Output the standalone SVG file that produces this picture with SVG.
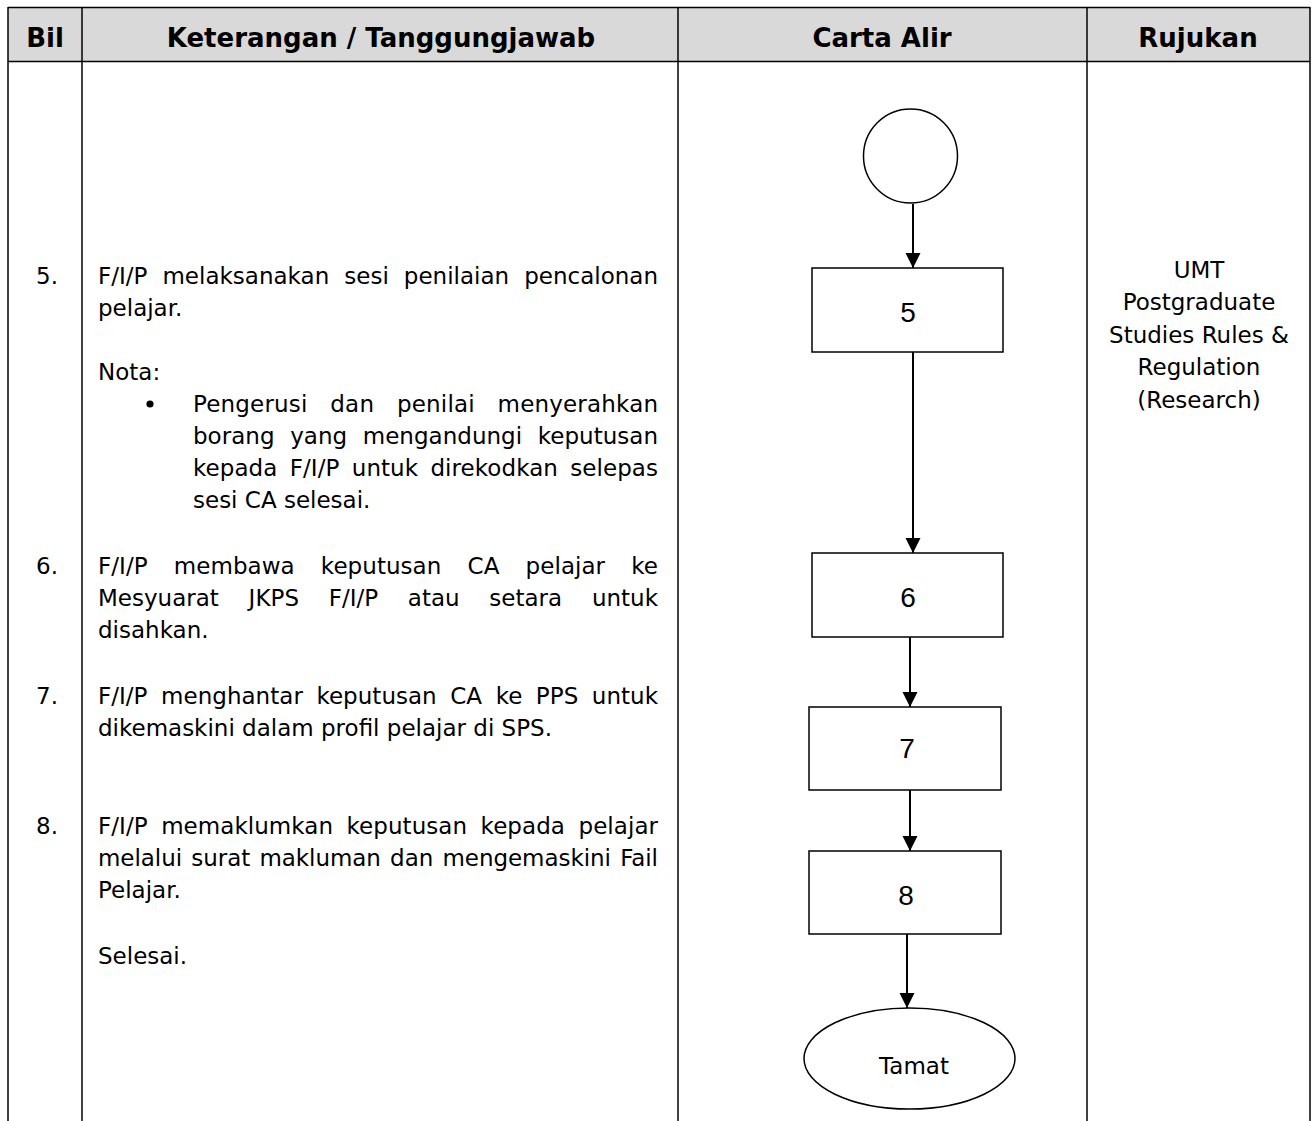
<svg xmlns="http://www.w3.org/2000/svg" width="1312" height="1121" viewBox="0 0 1312 1121">
  <defs>
    <style>
      .grid { stroke: #000; stroke-width: 1.5; fill: none; }
      .hdr { font-family: "DejaVu Sans", "Liberation Sans", sans-serif; font-weight: bold; font-size: 26px; fill: #000; text-anchor: middle; }
      .body { font-family: "DejaVu Sans", "Liberation Sans", sans-serif; font-size: 23px; fill: #000; }
      .ref { font-family: "DejaVu Sans", "Liberation Sans", sans-serif; font-size: 23px; fill: #000; text-anchor: middle; }
      .shape { fill: #fff; stroke: #000; stroke-width: 1.5; }
      .num { font-family: "Liberation Sans", Arial, sans-serif; font-size: 28px; fill: #000; text-anchor: middle; }
      .lbl { font-family: "DejaVu Sans", "Liberation Sans", sans-serif; font-size: 23px; fill: #000; text-anchor: middle; }
      .conn { stroke: #000; stroke-width: 2; fill: none; }
    </style>
    <marker id="arrow" markerUnits="userSpaceOnUse" markerWidth="16" markerHeight="16" refX="15" refY="7.5" orient="auto">
      <path d="M0,0 L15,7.5 L0,15 z" fill="#000"/>
    </marker>
  </defs>

  <g id="table">
    <rect x="8" y="7.5" width="1302" height="54" fill="#d9d9d9"/>
    <line class="grid" x1="8" y1="7.5" x2="1310" y2="7.5"/>
    <line class="grid" x1="8" y1="61.5" x2="1310" y2="61.5"/>
    <line class="grid" x1="8" y1="7" x2="8" y2="1121"/>
    <line class="grid" x1="82" y1="7" x2="82" y2="1121"/>
    <line class="grid" x1="678" y1="7" x2="678" y2="1121"/>
    <line class="grid" x1="1087" y1="7" x2="1087" y2="1121"/>
    <line class="grid" x1="1310" y1="7" x2="1310" y2="1121"/>
    <text class="hdr" x="45" y="46.5">Bil</text>
    <text class="hdr" x="381" y="46.5">Keterangan / Tanggungjawab</text>
    <text class="hdr" x="882" y="46.5">Carta Alir</text>
    <text class="hdr" x="1198" y="46.5">Rujukan</text>
  </g>

  <g id="keterangan">
    <text class="body" x="36" y="284">5.</text>
    <text class="body" x="98" y="284" word-spacing="7.7" textLength="560" lengthAdjust="spacing">F/I/P melaksanakan sesi penilaian pencalonan</text>
    <text class="body" x="98" y="316">pelajar.</text>
    <text class="body" x="98" y="380">Nota:</text>
    <circle cx="150" cy="404" r="3.6" fill="#000"/>
    <text class="body" x="193" y="412" word-spacing="15.3" textLength="465" lengthAdjust="spacing">Pengerusi dan penilai menyerahkan</text>
    <text class="body" x="193" y="444" word-spacing="8.3" textLength="465" lengthAdjust="spacing">borang yang mengandungi keputusan</text>
    <text class="body" x="193" y="476" word-spacing="4.9" textLength="465" lengthAdjust="spacing">kepada F/I/P untuk direkodkan selepas</text>
    <text class="body" x="193" y="508">sesi CA selesai.</text>

    <text class="body" x="36" y="574">6.</text>
    <text class="body" x="98" y="574" word-spacing="18.8" textLength="560" lengthAdjust="spacing">F/I/P membawa keputusan CA pelajar ke</text>
    <text class="body" x="98" y="606" word-spacing="22.4" textLength="560" lengthAdjust="spacing">Mesyuarat JKPS F/I/P atau setara untuk</text>
    <text class="body" x="98" y="638">disahkan.</text>

    <text class="body" x="36" y="704">7.</text>
    <text class="body" x="98" y="704" word-spacing="6.2" textLength="560" lengthAdjust="spacing">F/I/P menghantar keputusan CA ke PPS untuk</text>
    <text class="body" x="98" y="736">dikemaskini dalam profil pelajar di SPS.</text>

    <text class="body" x="36" y="834">8.</text>
    <text class="body" x="98" y="834" word-spacing="6.2" textLength="560" lengthAdjust="spacing">F/I/P memaklumkan keputusan kepada pelajar</text>
    <text class="body" x="98" y="866" word-spacing="2" textLength="560" lengthAdjust="spacing">melalui surat makluman dan mengemaskini Fail</text>
    <text class="body" x="98" y="898">Pelajar.</text>

    <text class="body" x="98" y="964">Selesai.</text>
  </g>

  <g id="rujukan">
    <text class="ref" x="1199" y="278">UMT</text>
    <text class="ref" x="1199" y="310">Postgraduate</text>
    <text class="ref" x="1199" y="343">Studies Rules &amp;</text>
    <text class="ref" x="1199" y="375">Regulation</text>
    <text class="ref" x="1199" y="408">(Research)</text>
  </g>

  <g id="connectors">
    <line class="conn" x1="913" y1="204" x2="913" y2="268" marker-end="url(#arrow)"/>
    <line class="conn" x1="913" y1="352" x2="913" y2="553" marker-end="url(#arrow)"/>
    <line class="conn" x1="910" y1="637" x2="910" y2="707" marker-end="url(#arrow)"/>
    <line class="conn" x1="910" y1="790" x2="910" y2="851" marker-end="url(#arrow)"/>
    <line class="conn" x1="907" y1="934" x2="907" y2="1008" marker-end="url(#arrow)"/>
  </g>

  <g id="node-start">
    <circle class="shape" cx="910.5" cy="156" r="47"/>
  </g>
  <g id="node-5">
    <rect class="shape" x="812" y="268" width="191" height="84"/>
    <text class="num" x="908" y="322">5</text>
  </g>
  <g id="node-6">
    <rect class="shape" x="812" y="553" width="191" height="84"/>
    <text class="num" x="908" y="607">6</text>
  </g>
  <g id="node-7">
    <rect class="shape" x="809" y="707" width="192" height="83"/>
    <text class="num" x="907" y="758">7</text>
  </g>
  <g id="node-8">
    <rect class="shape" x="809" y="851" width="192" height="83"/>
    <text class="num" x="906" y="905">8</text>
  </g>
  <g id="node-tamat">
    <ellipse class="shape" cx="909.5" cy="1058.5" rx="105.5" ry="50.5"/>
    <text class="lbl" x="914" y="1074">Tamat</text>
  </g>
</svg>
